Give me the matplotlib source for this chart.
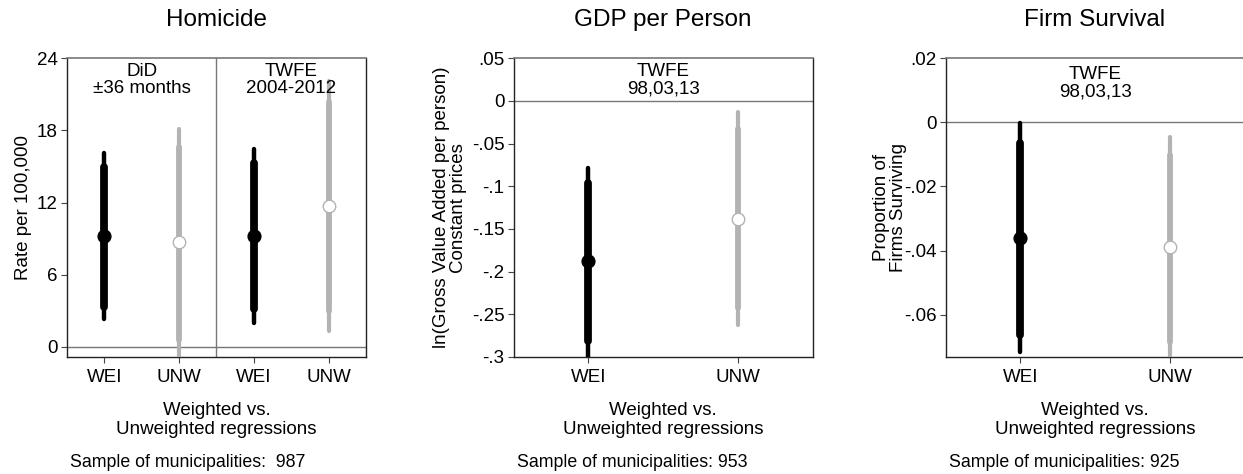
import matplotlib
matplotlib.use("Agg")
import matplotlib.pyplot as plt

plt.rcParams["font.family"] = ["Liberation Sans", "DejaVu Sans"]

titles = ["Homicide", "GDP per Person", "Firm Survival"]
group_labels = ["WEI", "UNW"]
samples = [987, 953, 925]

# Homicide: DiD (WEI, UNW) then TWFE (WEI, UNW)
hom_est = [9.2, 8.7, 9.2, 11.7]
hom_lo90 = [3.35, 0.6, 3.15, 3.0]
hom_hi90 = [15.0, 16.6, 15.3, 20.35]
hom_lo95 = [2.3, -1.5, 2.0, 1.35]
hom_hi95 = [16.1, 18.15, 16.5, 22.1]
hom_notes = ["DiD\n±36 months", "TWFE\n2004-2012"]
hom_ticks = [0, 6, 12, 18, 24]

gdp_est = [-0.188, -0.138]
gdp_lo90 = [-0.2815, -0.2425]
gdp_hi90 = [-0.0965, -0.0325]
gdp_lo95 = [-0.33, -0.263]
gdp_hi95 = [-0.078, -0.013]
gdp_ticks = [0.05, 0, -0.05, -0.1, -0.15, -0.2, -0.25, -0.3]
gdp_ticklabels = [".05", "0", "-.05", "-.1", "-.15", "-.2", "-.25", "-.3"]

firm_est = [-0.0361, -0.0389]
firm_lo90 = [-0.0665, -0.0685]
firm_hi90 = [-0.0065, -0.0101]
firm_lo95 = [-0.0717, -0.078]
firm_hi95 = [-0.0003, -0.0047]
firm_ticks = [0.02, 0, -0.02, -0.04, -0.06]
firm_ticklabels = [".02", "0", "-.02", "-.04", "-.06"]

BLACK = "#000000"
GREY = "#b3b3b3"
FS = 13.5


def draw_estimates(ax, xs, est, lo90, hi90, lo95, hi95):
    for i, x in enumerate(xs):
        weighted = i % 2 == 0
        col = BLACK if weighted else GREY
        ax.plot([x, x], [lo95[i], hi95[i]], color=col,
                lw=3.2 if weighted else 3.0, solid_capstyle="round", zorder=3)
        ax.plot([x, x], [lo90[i], hi90[i]], color=col,
                lw=5.6 if weighted else 4.2, solid_capstyle="round", zorder=4)
        if weighted:
            ax.plot(x, est[i], "o", ms=9.2, color=BLACK, zorder=5)
        else:
            ax.plot(x, est[i], "o", ms=9.0, mfc="white", mec=GREY,
                    mew=1.0, zorder=5)


def style_axes(ax, title):
    ax.set_title(title, fontsize=17.5, pad=23.5)
    ax.axhline(0, color="#777777", lw=1.0, zorder=1)
    for side in ["left", "bottom", "right"]:
        ax.spines[side].set_color("#222222")
        ax.spines[side].set_linewidth(1.0)
    ax.spines["top"].set_color("#777777")
    ax.spines["top"].set_linewidth(1.2)
    ax.tick_params(axis="both", direction="out", length=4.5, width=0.8,
                   color="#444444", labelsize=FS)
    ax.tick_params(axis="y", pad=2)
    ax.tick_params(axis="x", pad=4)
    ax.set_xlabel("Weighted vs.\nUnweighted regressions", fontsize=FS,
                  linespacing=1.12, va="top")
    ax.xaxis.set_label_coords(0.5, -0.152)


fig = plt.figure(figsize=(12.43, 4.74), dpi=100)
lefts = [0.0539, 0.4132, 0.7607]
axes = [fig.add_axes([l, 0.247, 0.2405, 0.630]) for l in lefts]

# Homicide
ax = axes[0]
xs = [1, 2, 3, 4]
draw_estimates(ax, xs, hom_est, hom_lo90, hom_hi90, hom_lo95, hom_hi95)
ax.set_xlim(0.5, 4.5)
ax.set_ylim(-0.83, 24)
ax.set_xticks(xs)
ax.set_xticklabels(group_labels * 2)
ax.set_yticks(hom_ticks)
ax.axvline(2.5, color="#777777", lw=1.0, zorder=1)
for k, note in enumerate(hom_notes):
    ax.text(1.5 + 2 * k, 0.927, note, transform=ax.get_xaxis_transform(),
            ha="center", va="center", fontsize=FS, linespacing=1.02)
ax.set_ylabel("Rate per 100,000", fontsize=FS, va="center")
ax.yaxis.set_label_coords(-0.147, 0.5)

# GDP per person
ax = axes[1]
xs = [1, 2]
draw_estimates(ax, xs, gdp_est, gdp_lo90, gdp_hi90, gdp_lo95, gdp_hi95)
ax.set_xlim(0.5, 2.5)
ax.set_ylim(-0.3, 0.05)
ax.set_xticks(xs)
ax.set_xticklabels(group_labels)
ax.set_yticks(gdp_ticks)
ax.set_yticklabels(gdp_ticklabels)
ax.text(0.5, 0.927, "TWFE\n98,03,13", transform=ax.transAxes,
        ha="center", va="center", fontsize=FS, linespacing=1.02)
ax.set_ylabel("ln(Gross Value Added per person)\nConstant prices",
              fontsize=FS, va="center", linespacing=1.0)
ax.yaxis.set_label_coords(-0.213, 0.5)

# Firm survival
ax = axes[2]
draw_estimates(ax, xs, firm_est, firm_lo90, firm_hi90, firm_lo95, firm_hi95)
ax.set_xlim(0.5, 2.5)
ax.set_ylim(-0.0732, 0.02)
ax.set_xticks(xs)
ax.set_xticklabels(group_labels)
ax.set_yticks(firm_ticks)
ax.set_yticklabels(firm_ticklabels)
ax.text(0.5, 0.917, "TWFE\n98,03,13", transform=ax.transAxes,
        ha="center", va="center", fontsize=FS, linespacing=1.02)
ax.set_ylabel("Proportion of\nFirms Surviving", fontsize=FS, va="center",
              linespacing=1.0)
ax.yaxis.set_label_coords(-0.185, 0.5)

for ax, title, n in zip(axes, titles, samples):
    style_axes(ax, title)
    sep = ":  " if n == 987 else ": "
    ax.text(0.01, -0.368, f"Sample of municipalities{sep}{n}",
            transform=ax.transAxes, ha="left", va="baseline", fontsize=12.8)

fig.savefig("out.png", dpi=100)
